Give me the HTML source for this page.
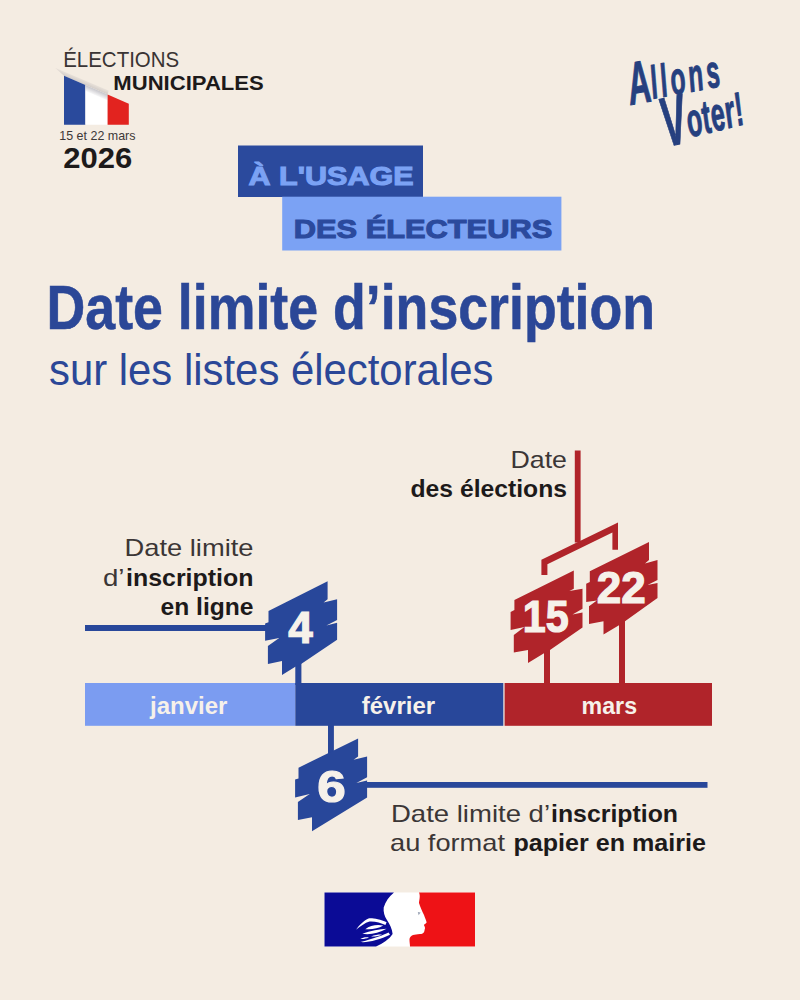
<!DOCTYPE html>
<html lang="fr">
<head>
<meta charset="utf-8">
<title>Date limite d’inscription sur les listes électorales</title>
<style>
html,body{margin:0;padding:0;background:#f4ece2;}
body{width:800px;height:1000px;overflow:hidden;position:relative;font-family:"Liberation Sans",sans-serif;}
svg{position:absolute;left:0;top:0;display:block}
text{font-family:"Liberation Sans",sans-serif;}
.b{font-weight:bold}
</style>
</head>
<body>
<svg width="800" height="1000" viewBox="0 0 800 1000">
<rect width="800" height="1000" fill="#f4ece2"/>

<!-- ===== top-left logo ===== -->
<g id="logo-elections">
  <text x="63.2" y="67" font-size="21.4" fill="#3a3434" textLength="116" lengthAdjust="spacingAndGlyphs">ÉLECTIONS</text>
  <text class="b" x="113.3" y="90.3" font-size="19.6" fill="#1d1a1a" textLength="150.5" lengthAdjust="spacingAndGlyphs">MUNICIPALES</text>
  <defs>
    <linearGradient id="sh" gradientUnits="userSpaceOnUse" x1="84" y1="78" x2="81.6" y2="83.6">
      <stop offset="0" stop-color="#8a8790" stop-opacity="0"/>
      <stop offset="1" stop-color="#8a8790" stop-opacity="0.33"/>
    </linearGradient>
    <linearGradient id="sh2" gradientUnits="userSpaceOnUse" x1="96" y1="89.6" x2="93.6" y2="95.2">
      <stop offset="0" stop-color="#8f8c96" stop-opacity="0.5"/>
      <stop offset="1" stop-color="#8f8c96" stop-opacity="0"/>
    </linearGradient>
  </defs>
  <polygon points="55,67.8 108.6,90.4 107.6,94.6 64,75.7" fill="url(#sh)"/>
  <polygon points="64,75.7 85.4,85 85.4,124.8 64,124.8" fill="#2a4a9c"/>
  <polygon points="85.4,85 107.6,94.6 107.6,124.8 85.4,124.8" fill="#ffffff"/>
  <polygon points="85.4,85 107.6,94.6 107.6,100.6 85.4,91" fill="url(#sh2)"/>
  <polygon points="107.6,94.6 128.8,103.8 128.8,124.8 107.6,124.8" fill="#e2231f"/>
  <text x="59.3" y="140.3" font-size="12.4" fill="#3d3838" textLength="76.2" lengthAdjust="spacingAndGlyphs">15 et 22 mars</text>
  <text class="b" x="63.3" y="168" font-size="29.4" fill="#1d1a1a" textLength="69" lengthAdjust="spacingAndGlyphs">2026</text>
</g>

<!-- ===== Allons Voter ===== -->
<g id="allons" fill="#26407f" font-style="italic" font-weight="bold" stroke="#26407f" stroke-width="1" stroke-linejoin="round">
  <text transform="translate(631,105) rotate(-10.5) scale(0.53,1)"><tspan font-size="60">A</tspan><tspan font-size="46" letter-spacing="6.2" dy="-2">llons</tspan></text>
  <text transform="translate(667,147) rotate(-13.5) scale(0.53,1)"><tspan font-size="70">V</tspan><tspan font-size="47" letter-spacing="1.2" dy="-4">oter!</tspan></text>
</g>

<!-- ===== banners ===== -->
<rect x="238" y="145.5" width="185" height="51.5" fill="#2b4a9d"/>
<rect x="282.2" y="196.7" width="279.2" height="53.8" fill="#7ba2f4"/>
<text class="b" x="248.6" y="184.9" font-size="26.7" fill="#7ba2f4" stroke="#7ba2f4" stroke-width="1.1" textLength="165" lengthAdjust="spacingAndGlyphs">À L'USAGE</text>
<text class="b" x="293.8" y="237.9" font-size="26.7" fill="#2b4a9d" stroke="#2b4a9d" stroke-width="1.1" textLength="258.4" lengthAdjust="spacingAndGlyphs">DES ÉLECTEURS</text>

<!-- ===== title ===== -->
<text class="b" x="46.6" y="328.9" font-size="62.6" fill="#2b4797" stroke="#2b4797" stroke-width="0.6" textLength="608.5" lengthAdjust="spacingAndGlyphs">Date limite d’inscription</text>
<text x="49" y="384.5" font-size="44" fill="#2b4797" textLength="444.4" lengthAdjust="spacingAndGlyphs">sur les listes électorales</text>

<!-- ===== timeline ===== -->
<g id="timeline">
  <rect x="85" y="683" width="210.3" height="42.8" fill="#7b9cf1"/>
  <rect x="295.3" y="683" width="208" height="42.8" fill="#28479a"/>
  <rect x="504.6" y="683" width="207.4" height="42.8" fill="#b0242a"/>
  <text class="b" x="188.7" y="714" font-size="24" fill="#f6f1ea" text-anchor="middle">janvier</text>
  <text class="b" x="398.4" y="714" font-size="24" fill="#f6f1ea" text-anchor="middle">février</text>
  <text class="b" x="609.3" y="714" font-size="24" fill="#f6f1ea" text-anchor="middle" textLength="55.5" lengthAdjust="spacingAndGlyphs">mars</text>
</g>

<!-- badge 4 -->
<g id="b4" fill="#28479a">
  <rect x="85" y="625" width="182" height="6"/>
  <rect x="295.3" y="655" width="6.1" height="30"/>
  <polygon points="268.5,611 327.6,581.2 327.6,599.2 323.6,602.6 337.1,599.2 337.1,620 326.4,625.6 337.1,622.8 337.1,639.7 301.1,663.9 295.3,666.7 282,675.1 282,661 267.9,663.9 267.9,645.9 279.2,638 265.1,640.8 265.1,623.4 268.5,622.2"/>
  <text class="b" x="300.6" y="643.4" font-size="44" fill="#f6f1ea" stroke="#f6f1ea" stroke-width="1.2" text-anchor="middle">4</text>
</g>

<!-- badge 6 -->
<g id="b6" fill="#28479a">
  <rect x="365" y="782" width="342.5" height="5.8"/>
  <rect x="328" y="724" width="5.9" height="32"/>
  <polygon points="298.5,767.7 358.1,738.4 358.1,756.4 353.6,759.8 367.1,756.4 367.1,777.2 356.4,782.9 367.1,780.6 367.1,797.5 312,831.2 312,817.2 297.9,820 297.9,802 309.7,794.1 295.1,797.5 295.1,779.5 298.5,778.4"/>
  <text class="b" x="331.4" y="801.6" font-size="45" fill="#f6f1ea" stroke="#f6f1ea" stroke-width="1.2" text-anchor="middle" textLength="28.5" lengthAdjust="spacingAndGlyphs">6</text>
</g>

<!-- red badges -->
<g id="red" fill="#b0242a">
  <rect x="574.8" y="450.5" width="5.8" height="92"/>
  <polygon points="618,522.4 618,549.7 612.4,549.7 612.4,532.5 547.4,564.2 547.4,575 541.4,575 541.4,559.7"/>
  <rect x="544" y="645" width="6" height="40"/>
  <rect x="619" y="618" width="6" height="67"/>
  <polygon points="514.4,600 573.8,570.6 573.8,588.8 569.4,591 582.5,588.8 582.5,608.8 572.5,614.4 582.5,612.5 582.5,627.5 550,650 544.4,653 528,663 528,650 513.8,652.5 513.8,635 524.4,626.9 510.6,630 510.6,611.9 514.4,610"/>
  <polygon points="589.8,571.2 649,541.9 649,560 645,563.5 657.5,560 657.5,580 647.5,585 657.5,583 657.5,598 625,621.2 619.4,625 603.5,634.4 603.5,621.2 589,624 589,606.2 596.9,600.6 586.2,601.9 586.2,583.8 589.8,581.9"/>
  <text class="b" x="545.8" y="631.8" font-size="44" fill="#f6f1ea" stroke="#f6f1ea" stroke-width="1.2" text-anchor="middle" textLength="46" lengthAdjust="spacingAndGlyphs">15</text>
  <text class="b" x="621.3" y="602.6" font-size="44" fill="#f6f1ea" stroke="#f6f1ea" stroke-width="1.2" text-anchor="middle" textLength="49" lengthAdjust="spacingAndGlyphs">22</text>
</g>

<!-- labels -->
<g fill="#1d1a1a" font-size="24">
  <text x="124.5" y="556.3" fill="#3b3636" textLength="129" lengthAdjust="spacingAndGlyphs">Date limite</text>
  <text y="585.5"><tspan x="103" fill="#3b3636" textLength="21.5" lengthAdjust="spacingAndGlyphs">d’</tspan><tspan class="b" x="126" textLength="127.5" lengthAdjust="spacingAndGlyphs">inscription</tspan></text>
  <text class="b" x="160.5" y="615" textLength="93" lengthAdjust="spacingAndGlyphs">en ligne</text>

  <text x="510.5" y="468.3" fill="#3b3636" textLength="56.5" lengthAdjust="spacingAndGlyphs">Date</text>
  <text class="b" x="410.5" y="497" textLength="156.5" lengthAdjust="spacingAndGlyphs">des élections</text>

  <text y="821.5"><tspan x="391" fill="#3b3636" textLength="159" lengthAdjust="spacingAndGlyphs">Date limite d’</tspan><tspan class="b" x="551" textLength="127" lengthAdjust="spacingAndGlyphs">inscription</tspan></text>
  <text y="851.2"><tspan x="390" fill="#3b3636" textLength="115" lengthAdjust="spacingAndGlyphs">au format</tspan><tspan> </tspan><tspan class="b" x="513.5" textLength="192.5" lengthAdjust="spacingAndGlyphs">papier en mairie</tspan></text>
</g>

<!-- ===== Marianne ===== -->
<g id="marianne">
  <rect x="324.5" y="892.5" width="150.5" height="54" fill="#ffffff"/>
  <path d="M324.5,892.5 L394,892.5 C389,896.5 385.5,901.5 383.7,907.5 C383.2,912 384.5,916.5 386.8,919.8 C389.5,924 392.3,929 392.6,934 C389.5,939 383,943.5 376,946.5 L324.5,946.5 Z" fill="#0b0b96"/>
  <g fill="#ffffff">
    <path d="M386.6,922.2 C380,919.2 372,917.8 368.5,918.4 C363,920.8 358.5,926 356,929.8 C360,926.8 365,922.8 369.5,921.6 C375,921.2 381,923 385.4,925 Z"/>
    <path d="M383.2,925.6 C377,924.3 370,925.5 365.3,929.2 C371,929.8 378.5,928.8 383.2,925.6 Z"/>
    <path d="M386.6,928.8 C380,929 370,931 362.3,933.7 C369,935.2 379,933.2 386.6,928.8 Z"/>
    <path d="M388.6,932.4 C383,935 375,938 360.4,942 C368,942.8 380,939.7 390,934.8 Z"/>
    <path d="M360.4,938.9 C363,937.2 366,936.9 369,937.5 C366,938.7 363,939.3 360.4,938.9 Z"/>
    <path d="M371,936.4 C374.5,934.9 378.5,934.3 382,934.4 C379,936 374.5,936.8 371,936.4 Z"/>
  </g>
  <path d="M475,892.5 L419,892.5 C420.6,896 419.2,900 419,903 C420,906.5 422,911 424,915 C425,918 426.4,920.8 426.6,922.6 C425.6,924 424,924.4 424,925.2 C424.5,926.5 425.1,927 425,928.2 C424.4,929.8 424.6,931 424,932.2 C423,933.6 421.5,934 420,934 C417,934.4 415,934.5 413,935 C411,936 409.6,937.5 409.5,939 C409.4,942 410,944 410,946.5 L475,946.5 Z" fill="#ee1216"/>
  <path d="M417.8,912 L420.6,912.6 L418.6,915.2 Z" fill="#9aa3b5"/>
</g>
</svg>
</body>
</html>
